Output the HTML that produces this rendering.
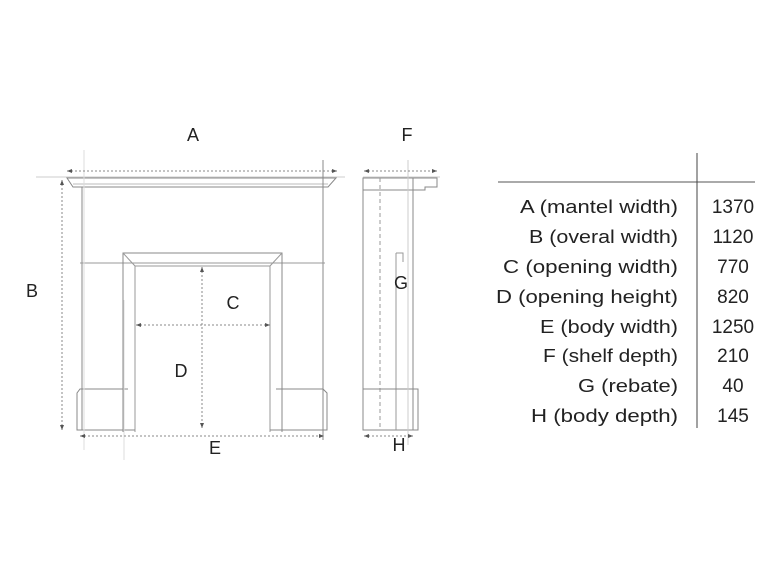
<!DOCTYPE html>
<html><head><style>body{margin:0;background:#fff}svg{display:block}</style></head><body>
<svg width="780" height="580" xmlns="http://www.w3.org/2000/svg" font-family="Liberation Sans, sans-serif">
<defs><marker id="ar" markerWidth="6" markerHeight="6" refX="5" refY="3" orient="auto-start-reverse"><path d="M0,1 L5,3 L0,5z" fill="#555"/></marker></defs>
<g fill="none" stroke="#999" stroke-width="1">
<line x1="36" y1="177" x2="345" y2="177" stroke="#ccc"/>
<path d="M67,178 L73,187 L328,187 L336,178 Z" stroke="#888"/>
<line x1="73" y1="184" x2="328" y2="184" stroke="#bbb"/>
<line x1="82" y1="187" x2="82" y2="430" stroke="#888"/>
<line x1="323" y1="160" x2="323" y2="440" stroke="#888"/>
<line x1="80" y1="263" x2="325" y2="263" stroke="#999"/>
<path d="M123,432 L123,253 L282,253 L282,432" stroke="#888"/>
<path d="M135,432 L135,266 L270,266 L270,432" stroke="#999"/>
<line x1="123" y1="253" x2="135" y2="266"/><line x1="282" y1="253" x2="270" y2="266"/>
<path d="M128,389 L80,389 L77,393 L77,430 L135,430" stroke="#888"/>
<path d="M276,389 L323,389 L327,393 L327,430 L270,430" stroke="#888"/>
<line x1="84" y1="150" x2="84" y2="450" stroke="#ddd"/>
<line x1="124" y1="300" x2="124" y2="460" stroke="#ddd"/>
<line x1="363" y1="177" x2="440" y2="177" stroke="#ccc"/>
<path d="M363,178 L437,178 L437,187 L425,187 L425,190 L363,190 Z" stroke="#888"/>
<path d="M363,178 L363,430 L413,430 L413,178" stroke="#888"/>
<line x1="380" y1="178" x2="380" y2="430" stroke="#999" stroke-dasharray="4,3"/>
<line x1="396" y1="253" x2="396" y2="430" stroke="#999"/>
<path d="M396,253 L403,253 L403,262" stroke="#999"/>
<path d="M363,389 L418,389 L418,430 L413,430" stroke="#888"/>
<line x1="408" y1="160" x2="408" y2="445" stroke="#ccc"/>
</g>
<g stroke="#888" stroke-width="1" stroke-dasharray="2,2" marker-start="url(#ar)" marker-end="url(#ar)" fill="none">
<line x1="67" y1="171" x2="337" y2="171"/>
<line x1="62" y1="180" x2="62" y2="430"/>
<line x1="80" y1="436" x2="324" y2="436"/>
<line x1="136" y1="325" x2="270" y2="325"/>
<line x1="202" y1="267" x2="202" y2="428"/>
<line x1="364" y1="171" x2="437" y2="171"/>
<line x1="364" y1="436" x2="413" y2="436"/>
</g>
<g font-size="18" fill="#222" text-anchor="middle">
<text x="193" y="141">A</text><text x="32" y="297">B</text><text x="233" y="309">C</text>
<text x="181" y="377">D</text><text x="215" y="454">E</text><text x="407" y="141">F</text>
<text x="401" y="289">G</text><text x="399" y="451">H</text>
</g>
<line x1="498" y1="182" x2="755" y2="182" stroke="#555"/>
<line x1="697" y1="153" x2="697" y2="428" stroke="#444"/>
<g font-size="18" fill="#222">
<text x="520" y="213" textLength="158" lengthAdjust="spacingAndGlyphs">A (mantel width)</text>
<text x="529" y="243" textLength="149" lengthAdjust="spacingAndGlyphs">B (overal width)</text>
<text x="503" y="273" textLength="175" lengthAdjust="spacingAndGlyphs">C (opening width)</text>
<text x="496" y="303" textLength="182" lengthAdjust="spacingAndGlyphs">D (opening height)</text>
<text x="540" y="333" textLength="138" lengthAdjust="spacingAndGlyphs">E (body width)</text>
<text x="543" y="362" textLength="135" lengthAdjust="spacingAndGlyphs">F (shelf depth)</text>
<text x="578" y="392" textLength="100" lengthAdjust="spacingAndGlyphs">G (rebate)</text>
<text x="531" y="422" textLength="147" lengthAdjust="spacingAndGlyphs">H (body depth)</text>
</g>
<g font-size="19" fill="#222" text-anchor="middle">
<text x="733" y="213">1370</text><text x="733" y="243">1120</text><text x="733" y="273">770</text>
<text x="733" y="303">820</text><text x="733" y="333">1250</text><text x="733" y="362">210</text>
<text x="733" y="392">40</text><text x="733" y="422">145</text>
</g>
</svg>
</body></html>
